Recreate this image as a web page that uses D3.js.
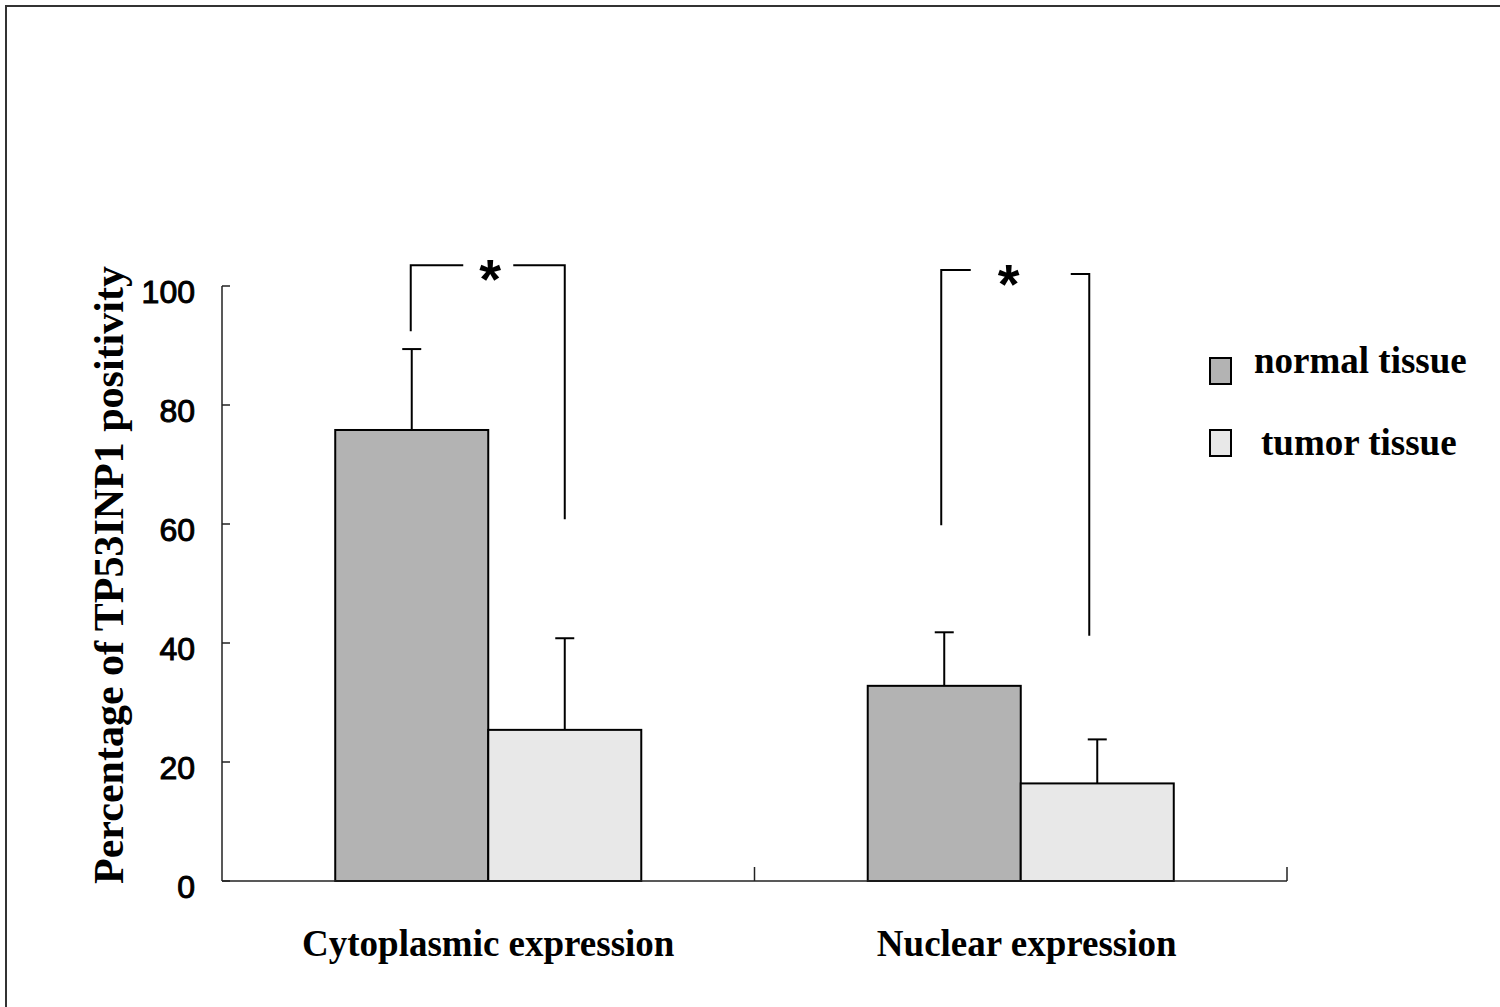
<!DOCTYPE html>
<html>
<head>
<meta charset="utf-8">
<script src="https://cdn.jsdelivr.net/npm/d3@7"></script>
<style>
  body { margin: 0; background: #fff; }
  svg { display: block; }
</style>
</head>
<body>
<svg width="1500" height="1007"></svg>
<script>
// data
const categories = ["Cytoplasmic expression", "Nuclear expression"];
const series = ["normal tissue", "tumor tissue"];
const normalMean = [75.8, 32.8];
const normalErr = [13.6, 9.0];
const tumorMean = [25.4, 16.4];
const tumorErr = [15.4, 7.4];
const yTicks = [0, 20, 40, 60, 80, 100];

// significance brackets: left/right arm tops and bottoms (in % units)
const bracketLeftTop = [103.5, 102.7];
const bracketLeftBottom = [92.4, 59.8];
const bracketRightTop = [103.5, 102.0];
const bracketRightBottom = [60.8, 41.2];

const colors = { "normal tissue": "#b3b3b3", "tumor tissue": "#e8e8e8" };

// layout nudges (px) to match the hand-placed lines of the original
const bracketGap = [25, 50];
const bracketNudgeL = [-1, -3];
const bracketNudgeR = [0, -8];
const starNudge = [2, -12];
const labelNudge = [0, 6];

// The svg
const svg = d3.select("svg"),
    width = +svg.attr("width"),
    height = +svg.attr("height");

// outer frame
svg.append("rect")
  .attr("x", 6).attr("y", 6)
  .attr("width", width + 10).attr("height", height + 10)
  .attr("fill", "none")
  .attr("stroke", "#333")
  .attr("stroke-width", 2);

const mLeft = 222, mRight = 1287, mTop = 286, mBottom = 881;

const x = d3.scaleBand()
  .domain(categories)
  .range([mLeft, mRight]);

const xInner = d3.scaleBand()
  .domain(series)
  .range([0, x.bandwidth()])
  .paddingOuter(0.74);

const y = d3.scaleLinear()
  .domain([0, 100])
  .range([mBottom, mTop]);

const data = [];
categories.forEach((c, i) => {
  data.push({ cat: c, s: series[0], v: normalMean[i], e: normalErr[i] });
  data.push({ cat: c, s: series[1], v: tumorMean[i], e: tumorErr[i] });
});

const cx = d => x(d.cat) + xInner(d.s) + xInner.bandwidth() / 2;

// bars
svg.append("g")
  .selectAll("rect")
  .data(data)
  .join("rect")
    .attr("x", d => x(d.cat) + xInner(d.s))
    .attr("y", d => y(d.v))
    .attr("width", xInner.bandwidth())
    .attr("height", d => y(0) - y(d.v))
    .attr("fill", d => colors[d.s])
    .attr("stroke", "#000")
    .attr("stroke-width", 2);

// error bars (upper only)
const err = svg.append("g")
  .attr("stroke", "#000")
  .attr("stroke-width", 2);
err.selectAll("line.stem")
  .data(data)
  .join("line")
    .attr("class", "stem")
    .attr("x1", cx).attr("x2", cx)
    .attr("y1", d => y(d.v)).attr("y2", d => y(d.v + d.e));
err.selectAll("line.cap")
  .data(data)
  .join("line")
    .attr("class", "cap")
    .attr("x1", d => cx(d) - 9.5).attr("x2", d => cx(d) + 9.5)
    .attr("y1", d => y(d.v + d.e)).attr("y2", d => y(d.v + d.e));

// y axis
const yAxis = svg.append("g");
yAxis.append("line")
  .attr("x1", mLeft).attr("x2", mLeft)
  .attr("y1", y(100)).attr("y2", y(0))
  .attr("stroke", "#222").attr("stroke-width", 1.5);
yAxis.selectAll("line.tick")
  .data(yTicks)
  .join("line")
    .attr("class", "tick")
    .attr("x1", mLeft).attr("x2", mLeft + 8)
    .attr("y1", d => y(d)).attr("y2", d => y(d))
    .attr("stroke", "#222").attr("stroke-width", 1.5);
yAxis.selectAll("text")
  .data(yTicks)
  .join("text")
    .attr("x", 195)
    .attr("y", d => y(d) + 17)
    .attr("text-anchor", "end")
    .attr("font-family", "Liberation Sans, Arial, sans-serif")
    .attr("font-size", 32)
    .attr("stroke", "#000")
    .attr("stroke-width", 1)
    .text(d => d);

// x axis
const xAxis = svg.append("g");
xAxis.append("line")
  .attr("x1", mLeft).attr("x2", mRight)
  .attr("y1", mBottom).attr("y2", mBottom)
  .attr("stroke", "#222").attr("stroke-width", 1.5);
xAxis.selectAll("line.tick")
  .data(categories)
  .join("line")
    .attr("class", "tick")
    .attr("x1", d => x(d) + x.bandwidth()).attr("x2", d => x(d) + x.bandwidth())
    .attr("y1", mBottom).attr("y2", mBottom - 14)
    .attr("stroke", "#222").attr("stroke-width", 1.5);
xAxis.selectAll("text")
  .data(categories)
  .join("text")
    .attr("x", (d, i) => x(d) + x.bandwidth() / 2 + labelNudge[i])
    .attr("y", 956)
    .attr("text-anchor", "middle")
    .attr("font-family", "Liberation Serif, Times New Roman, serif")
    .attr("font-weight", "bold")
    .attr("font-size", 37)
    .text(d => d);

// y title
svg.append("text")
  .attr("transform", `translate(123, ${(262 + 888) / 2}) rotate(-90)`)
  .attr("text-anchor", "middle")
  .attr("font-family", "Liberation Serif, Times New Roman, serif")
  .attr("font-weight", "bold")
  .attr("font-size", 42)
  .text("Percentage of TP53INP1 positivity");

// significance brackets
const brackets = svg.append("g")
  .attr("stroke", "#000")
  .attr("stroke-width", 2)
  .attr("fill", "none");
categories.forEach((c, i) => {
  const xl = x(c) + xInner(series[0]) + xInner.bandwidth() / 2 + bracketNudgeL[i];
  const xr = x(c) + xInner(series[1]) + xInner.bandwidth() / 2 + bracketNudgeR[i];
  const mid = x(c) + x.bandwidth() / 2;
  brackets.append("path")
    .attr("d", d3.line()([[xl, y(bracketLeftBottom[i])], [xl, y(bracketLeftTop[i])], [mid - bracketGap[i], y(bracketLeftTop[i])]]));
  brackets.append("path")
    .attr("d", d3.line()([[mid + bracketGap[i], y(bracketRightTop[i])], [xr, y(bracketRightTop[i])], [xr, y(bracketRightBottom[i])]]));
  svg.append("text")
    .attr("x", mid + starNudge[i])
    .attr("y", y(bracketLeftTop[i]) + 33)
    .attr("text-anchor", "middle")
    .attr("font-family", "Liberation Sans, Arial, sans-serif")
    .attr("font-weight", "bold")
    .attr("font-size", 56)
    .text("*");
});

// legend
const legend = svg.append("g");
legend.selectAll("rect")
  .data(series)
  .join("rect")
    .attr("x", 1210)
    .attr("y", (d, i) => 358 + i * 72)
    .attr("width", 21)
    .attr("height", 26)
    .attr("fill", d => colors[d])
    .attr("stroke", "#000")
    .attr("stroke-width", 2);
legend.selectAll("text")
  .data(series)
  .join("text")
    .attr("x", (d, i) => i === 0 ? 1254 : 1261)
    .attr("y", (d, i) => 373 + i * 82)
    .attr("font-family", "Liberation Serif, Times New Roman, serif")
    .attr("font-weight", "bold")
    .attr("font-size", 37)
    .text(d => d);
</script>
</body>
</html>
